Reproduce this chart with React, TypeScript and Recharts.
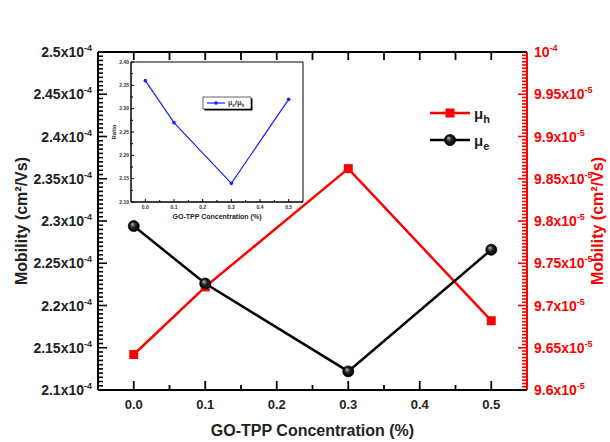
import React from 'react';
import { LineChart, Line, XAxis, YAxis, Legend, ReferenceArea } from 'recharts';

const FONT = '"Liberation Sans", Arial, Helvetica, sans-serif';

// ---------- main chart data ----------
const concentration = [0.0, 0.1, 0.3, 0.5];
const muH = [9.642e-5, 9.722e-5, 9.862e-5, 9.682e-5];
const muE = [2.294e-4, 2.226e-4, 2.122e-4, 2.266e-4];

// ---------- inset data ----------
const ratioConc = [0.0, 0.1, 0.3, 0.5];
const ratio = [2.36, 2.27, 2.14, 2.32];

// ---------- ticks / labels ----------
const xMajor = [0, 0.1, 0.2, 0.3, 0.4, 0.5];
const xMajorLabels = ['0.0', '0.1', '0.2', '0.3', '0.4', '0.5'];
const xMinor = [0.05, 0.15, 0.25, 0.35, 0.45];

const leftMajor = [2.1e-4, 2.15e-4, 2.2e-4, 2.25e-4, 2.3e-4, 2.35e-4, 2.4e-4, 2.45e-4, 2.5e-4];
const leftLabels = ['2.1', '2.15', '2.2', '2.25', '2.3', '2.35', '2.4', '2.45', '2.5'];
const rightMajor = [9.6e-5, 9.65e-5, 9.7e-5, 9.75e-5, 9.8e-5, 9.85e-5, 9.9e-5, 9.95e-5, 1e-4];
const rightLabels = ['9.6', '9.65', '9.7', '9.75', '9.8', '9.85', '9.9', '9.95', ''];

const insetYMajor = [2.1, 2.15, 2.2, 2.25, 2.3, 2.35, 2.4];
const insetYLabels = ['2.10', '2.15', '2.20', '2.25', '2.30', '2.35', '2.40'];

const withMinor = (majors: number[], n: number) => {
  const out: number[] = [];
  for (let i = 0; i < majors.length - 1; i++) {
    for (let k = 0; k < n; k++) out.push(majors[i] + ((majors[i + 1] - majors[i]) * k) / n);
  }
  out.push(majors[majors.length - 1]);
  return out;
};

const XDOM: [number, number] = [-0.05, 0.55];
const LDOM: [number, number] = [2.1e-4, 2.5e-4];
const RDOM: [number, number] = [9.6e-5, 1e-4];

const leftTicks = withMinor(leftMajor, 10);
const rightTicks = withMinor(rightMajor, 13);
const xTicks = [...xMajor, ...xMinor].sort((a, b) => a - b);
const insetYTicks = withMinor(insetYMajor, 2);

const mainData = concentration.map((c, i) => ({ c, muH: muH[i], muE: muE[i] }));
const insetData = ratioConc.map((c, i) => ({ c, ratio: ratio[i] }));

const findIdx = (arr: number[], v: number, tol: number) => arr.findIndex((m) => Math.abs(m - v) < tol);

// pixel size of the main plot area (used to size the inward tick marks in axis units)
const PLOT_W = 429;
const PLOT_H = 338;
const pxX = (XDOM[1] - XDOM[0]) / PLOT_W;
const pxL = (LDOM[1] - LDOM[0]) / PLOT_H;
const pxR = (RDOM[1] - RDOM[0]) / PLOT_H;

const inner = (arr: number[]) => arr.slice(1, arr.length - 1);

// ---------- tick label renderers ----------
const LeftTick = (p: any) => {
  const { x, y, payload } = p;
  const idx = findIdx(leftMajor, payload.value, 1e-9);
  if (idx < 0) return <g />;
  return (
    <text x={x - 6} y={y + 5} textAnchor="end" fontFamily={FONT} fontWeight="bold" fontSize={14} fill="#222">
      <tspan>{leftLabels[idx]}x10</tspan>
      <tspan dy={-6} fontSize={9}>-4</tspan>
    </text>
  );
};

const RightTick = (p: any) => {
  const { x, y, payload } = p;
  const idx = findIdx(rightMajor, payload.value, 1e-10);
  if (idx < 0) return <g />;
  return (
    <text x={x + 7} y={y + 5} textAnchor="start" fontFamily={FONT} fontWeight="bold" fontSize={14} fill="#f00">
      <tspan>{rightLabels[idx] ? rightLabels[idx] + 'x10' : '10'}</tspan>
      <tspan dy={-6} fontSize={9}>{rightLabels[idx] ? '-5' : '-4'}</tspan>
    </text>
  );
};

const BottomTick = (p: any) => {
  const { x, y, payload } = p;
  const idx = findIdx(xMajor, payload.value, 1e-6);
  if (idx < 0) return <g />;
  return (
    <text x={x} y={y + 19} textAnchor="middle" fontFamily={FONT} fontWeight="bold" fontSize={13} fill="#222">
      {xMajorLabels[idx]}
    </text>
  );
};

const InsetLeftTick = (p: any) => {
  const { x, y, payload } = p;
  const idx = findIdx(insetYMajor, payload.value, 1e-6);
  const major = idx >= 0;
  return (
    <g>
      <rect x={x} y={y - 0.5} width={major ? 3 : 2} height={1} fill="#000" />
      {major && (
        <text x={x - 2} y={y + 1.8} textAnchor="end" fontFamily={FONT} fontWeight="bold" fontSize={5} fill="#333">
          {insetYLabels[idx]}
        </text>
      )}
    </g>
  );
};

const InsetBottomTick = (p: any) => {
  const { x, y, payload } = p;
  const idx = findIdx(xMajor, payload.value, 1e-6);
  const major = idx >= 0;
  const len = major ? 3 : 2;
  return (
    <g>
      <rect x={x - 0.5} y={y - len} width={1} height={len} fill="#000" />
      {major && (
        <text x={x} y={y + 7} textAnchor="middle" fontFamily={FONT} fontWeight="bold" fontSize={5} fill="#333">
          {xMajorLabels[idx]}
        </text>
      )}
    </g>
  );
};

// ---------- markers ----------
const SquareDot = (p: any) => {
  const { cx, cy, index } = p;
  if (cx == null || cy == null) return <g key={index} />;
  return <rect key={index} x={cx - 4.5} y={cy - 4.5} width={9} height={9} fill="#f00" />;
};

const BallDot = (p: any) => {
  const { cx, cy, index } = p;
  if (cx == null || cy == null) return <g key={index} />;
  return <circle key={index} cx={cx} cy={cy} r={5.5} fill="url(#ballGrad)" stroke="#000" strokeWidth={0.8} />;
};

// ---------- legends ----------
const MainLegend = () => (
  <svg width={90} height={52} style={{ display: 'block', overflow: 'visible' }}>
    <rect x={2} y={11.75} width={40} height={2.5} fill="#f00" />
    <rect x={17.5} y={8.5} width={9} height={9} fill="#f00" />
    <text x={46} y={19} fontFamily={FONT} fontWeight="bold" fontSize={15} fill="#222">
      <tspan>μ</tspan>
      <tspan dy={4} fontSize={11}>h</tspan>
    </text>
    <rect x={2} y={38.75} width={40} height={2.5} fill="#000" />
    <circle cx={22} cy={40} r={5.5} fill="url(#ballGrad)" stroke="#000" strokeWidth={0.8} />
    <text x={46} y={46} fontFamily={FONT} fontWeight="bold" fontSize={15} fill="#222">
      <tspan>μ</tspan>
      <tspan dy={4} fontSize={11}>e</tspan>
    </text>
  </svg>
);

const InsetLegend = () => (
  <svg width={54} height={16} style={{ display: 'block', overflow: 'visible' }}>
    <rect x={1.5} y={1.5} width={48} height={12} fill="#000" />
    <rect x={0} y={0} width={48} height={12} fill="#fff" stroke="#000" strokeWidth={0.6} />
    <rect x={4} y={5.4} width={18} height={1.2} fill="#1d1dff" />
    <circle cx={13} cy={6} r={1.8} fill="#1d1dff" />
    <text x={25} y={8} fontFamily={FONT} fontWeight="bold" fontSize={7} fill="#333">
      <tspan>μ</tspan>
      <tspan dy={1.5} fontSize={5}>e</tspan>
      <tspan dy={-1.5}>/μ</tspan>
      <tspan dy={1.5} fontSize={5}>h</tspan>
    </text>
  </svg>
);

// ---------- axis title renderers ----------
const VLabel = (dx: number, color: string, text: string, size: number) => (props: any) => {
  const vb = props.viewBox || {};
  const x = vb.x + dx;
  const y = vb.y + vb.height / 2;
  return (
    <text
      x={x}
      y={y}
      transform={`rotate(-90 ${x} ${y})`}
      textAnchor="middle"
      dominantBaseline="central"
      fontFamily={FONT}
      fontWeight="bold"
      fontSize={size}
      fill={color}
    >
      {text}
    </text>
  );
};

const HLabel = (dy: number, text: string, size: number) => (props: any) => {
  const vb = props.viewBox || {};
  const x = vb.x + vb.width / 2;
  const y = vb.y + dy;
  return (
    <text x={x} y={y} textAnchor="middle" fontFamily={FONT} fontWeight="bold" fontSize={size} fill="#222">
      {text}
    </text>
  );
};

const tickArea = (key: string, xId: string, yId: string, x1: number, x2: number, y1: number, y2: number, color: string) => (
  <ReferenceArea
    key={key}
    xAxisId={xId}
    yAxisId={yId}
    x1={x1}
    x2={x2}
    y1={y1}
    y2={y2}
    fill={color}
    fillOpacity={1}
    stroke="none"
    ifOverflow="visible"
  />
);

export default function App() {
  const leftMarks = inner(leftTicks).map((v, i) => {
    const major = findIdx(leftMajor, v, 1e-9) >= 0;
    return tickArea(`lt${i}`, 'b', 'l', XDOM[0], XDOM[0] + (major ? 9 : 5) * pxX, v - 0.8 * pxL, v + 0.8 * pxL, '#000');
  });
  const rightMarks = inner(rightTicks).map((v, i) => {
    const major = findIdx(rightMajor, v, 1e-10) >= 0;
    return tickArea(`rt${i}`, 'b', 'r', XDOM[1] - (major ? 9 : 5) * pxX, XDOM[1], v - 0.8 * pxR, v + 0.8 * pxR, '#f00');
  });
  const bottomMarks = xTicks.map((v, i) => {
    const major = findIdx(xMajor, v, 1e-6) >= 0;
    return tickArea(`bt${i}`, 'b', 'l', v - 0.9 * pxX, v + 0.9 * pxX, LDOM[0], LDOM[0] + (major ? 9 : 5) * pxL, '#000');
  });
  const topMarks = xTicks.map((v, i) =>
    tickArea(`tt${i}`, 'b', 'l', v - 0.9 * pxX, v + 0.9 * pxX, LDOM[1] - 8 * pxL, LDOM[1], '#000')
  );

  return (
    <div style={{ position: 'absolute', left: 0, top: 0, width: 610, height: 442, background: '#fff' }}>
      <svg width={0} height={0} style={{ position: 'absolute' }}>
        <defs>
          <radialGradient id="ballGrad" cx="0.5" cy="0.5" r="0.5" fx="0.35" fy="0.3">
            <stop offset="0" stopColor="#bbb" />
            <stop offset="0.5" stopColor="#222" />
            <stop offset="1" stopColor="#000" />
          </radialGradient>
        </defs>
      </svg>
      <LineChart width={610} height={442} data={mainData} margin={{ top: 51, right: 8, bottom: 2, left: 8 }}>
        <XAxis
          xAxisId="b"
          dataKey="c"
          type="number"
          domain={XDOM}
          ticks={xMajor}
          interval={0}
          tickSize={0}
          tickMargin={0}
          tickLine={false}
          tick={BottomTick}
          axisLine={{ stroke: '#000', strokeWidth: 2 }}
          height={50}
          label={{ content: HLabel(46, 'GO-TPP Concentration (%)', 16) }}
        />
        <XAxis
          xAxisId="t"
          dataKey="c"
          orientation="top"
          type="number"
          domain={XDOM}
          ticks={xMajor}
          interval={0}
          tickSize={0}
          tickMargin={0}
          tickLine={false}
          tick={false}
          axisLine={{ stroke: '#000', strokeWidth: 2 }}
          height={1}
        />
        <YAxis
          yAxisId="l"
          type="number"
          domain={LDOM}
          ticks={leftMajor}
          interval={0}
          tickSize={0}
          tickMargin={0}
          tickLine={false}
          tick={LeftTick}
          axisLine={{ stroke: '#000', strokeWidth: 2 }}
          width={90}
          label={{ content: VLabel(13, '#222', 'Mobility (cm²/Vs)', 16) }}
        />
        <YAxis
          yAxisId="r"
          orientation="right"
          type="number"
          domain={RDOM}
          ticks={rightMajor}
          interval={0}
          tickSize={0}
          tickMargin={0}
          tickLine={false}
          tick={RightTick}
          axisLine={{ stroke: '#f00', strokeWidth: 2 }}
          width={75}
          label={{ content: VLabel(70, '#f00', 'Mobility (cm²/Vs)', 16) }}
        />
        {leftMarks}
        {rightMarks}
        {bottomMarks}
        {topMarks}
        <Line
          xAxisId="b"
          yAxisId="r"
          dataKey="muH"
          stroke="#f00"
          strokeWidth={2.5}
          dot={SquareDot}
          activeDot={false}
          isAnimationActive={false}
        />
        <Line
          xAxisId="b"
          yAxisId="l"
          dataKey="muE"
          stroke="#000"
          strokeWidth={2.5}
          dot={BallDot}
          activeDot={false}
          isAnimationActive={false}
        />
        <Legend
          layout="horizontal"
          verticalAlign="middle"
          align="center"
          content={MainLegend}
          wrapperStyle={{ left: 428, top: 100, width: 90, height: 52 }}
        />
      </LineChart>

      <div style={{ position: 'absolute', left: 106, top: 50, width: 200, height: 172 }}>
        <LineChart width={200} height={172} data={insetData} margin={{ top: 12, right: 3, bottom: 0, left: 0 }}>
          <XAxis
            dataKey="c"
            type="number"
            domain={XDOM}
            ticks={xTicks}
            interval={0}
            tickSize={0}
            tickMargin={0}
            tickLine={false}
            tick={InsetBottomTick}
            axisLine={{ stroke: '#000', strokeWidth: 1 }}
            height={20}
            label={{ content: HLabel(17, 'GO-TPP Concentration (%)', 7) }}
          />
          <YAxis
            type="number"
            domain={[2.1, 2.4]}
            ticks={insetYTicks}
            interval={0}
            tickSize={0}
            tickMargin={0}
            tickLine={false}
            tick={InsetLeftTick}
            axisLine={{ stroke: '#000', strokeWidth: 1 }}
            width={25}
            label={{ content: VLabel(8, '#222', 'Ratio', 6) }}
          />
          <ReferenceArea x1={-0.05} x2={0.55} y1={2.1} y2={2.4} fill="none" stroke="#000" strokeWidth={1} />
          <Line
            dataKey="ratio"
            stroke="#1d1dff"
            strokeWidth={1.2}
            dot={{ r: 1.8, fill: '#1d1dff', stroke: '#1d1dff', strokeWidth: 0 }}
            activeDot={false}
            isAnimationActive={false}
          />
          <Legend
            layout="horizontal"
            verticalAlign="middle"
            align="center"
            content={InsetLegend}
            wrapperStyle={{ left: 97, top: 47, width: 54, height: 16 }}
          />
        </LineChart>
      </div>
    </div>
  );
}
